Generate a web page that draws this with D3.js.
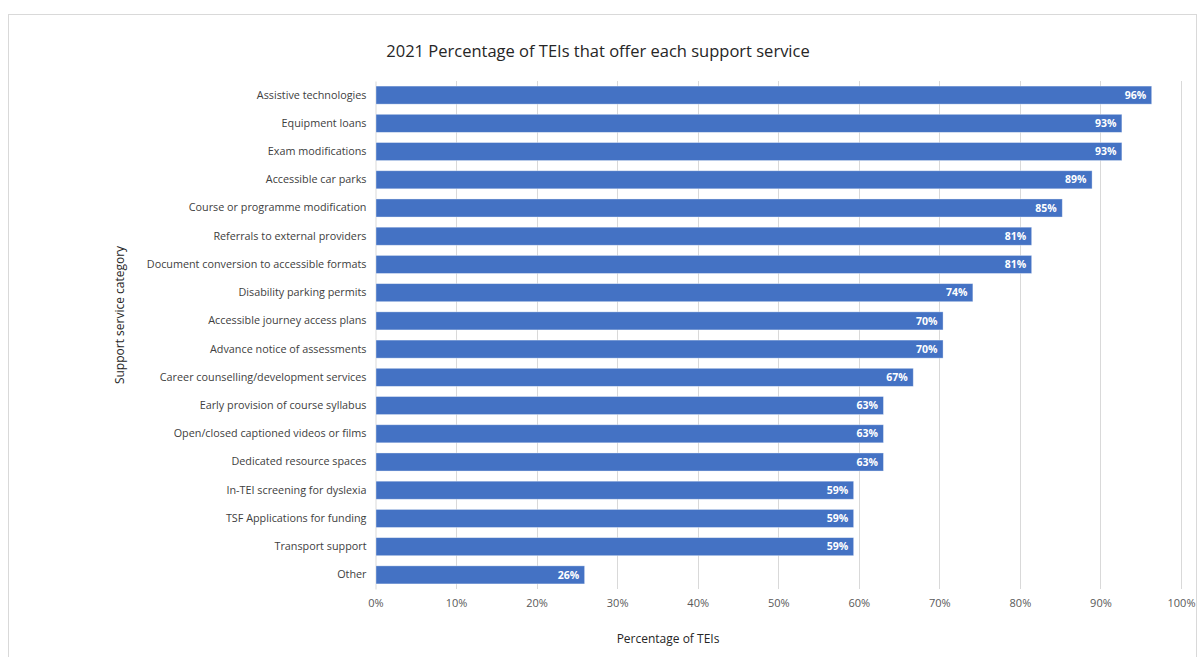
<!DOCTYPE html>
<html>
<head>
<meta charset="utf-8">
<script src="https://cdn.jsdelivr.net/npm/d3@7"></script>
<style>
  body { margin: 0; background: #fff; }
  svg { font-family: "Open Sans", "Noto Sans", sans-serif; }
</style>
</head>
<body>
<div id="chart"></div>
<script>
// Chart data
const categories = [
  "Assistive technologies",
  "Equipment loans",
  "Exam modifications ",
  "Accessible car parks",
  "Course or programme modification",
  "Referrals to external providers",
  "Document conversion to accessible formats",
  "Disability parking permits",
  "Accessible journey access plans",
  "Advance notice of assessments",
  "Career counselling/development services",
  "Early provision of course syllabus",
  "Open/closed captioned videos or films",
  "Dedicated resource spaces",
  "In-TEI screening for dyslexia",
  "TSF Applications for funding",
  "Transport support",
  "Other"
];
const values = [96.3, 92.6, 92.6, 88.9, 85.2, 81.4, 81.4, 74.1, 70.4, 70.4, 66.7, 63.0, 63.0, 63.0, 59.3, 59.3, 59.3, 25.9];
const xTicks = [0, 10, 20, 30, 40, 50, 60, 70, 80, 90, 100];

const width = 1198;
const height = 657;
const margin = { top: 81, right: 17, bottom: 68, left: 375.5 };

const svg = d3.select("#chart")
  .append("svg")
  .attr("width", width)
  .attr("height", height);

// Chart border
svg.append("rect")
  .attr("x", 8.5)
  .attr("y", 14.5)
  .attr("width", 1188)
  .attr("height", 660)
  .attr("fill", "none")
  .attr("stroke", "#d9d9d9");

// Scales
const x = d3.scaleLinear()
  .domain([0, 100])
  .range([margin.left, width - margin.right]);

const y = d3.scaleBand()
  .domain(categories)
  .range([margin.top, height - margin.bottom])
  .paddingInner(0.36)
  .paddingOuter(0.18);

// Vertical gridlines
svg.append("g")
  .selectAll("line")
  .data(xTicks.slice(1))
  .enter()
  .append("line")
  .attr("x1", (d) => Math.round(x(d)) + 0.5)
  .attr("x2", (d) => Math.round(x(d)) + 0.5)
  .attr("y1", margin.top)
  .attr("y2", height - margin.bottom)
  .attr("stroke", "#d9d9d9");

// X axis tick labels
const xAxis = d3.axisBottom(x)
  .tickValues(xTicks)
  .tickFormat((d) => d + "%")
  .tickSize(0)
  .tickPadding(10);

svg.append("g")
  .attr("transform", `translate(0, ${height - margin.bottom})`)
  .call(xAxis)
  .call((g) => g.select(".domain").remove())
  .selectAll("text")
  .attr("fill", "#595959")
  .style("font-size", "11px")
  .style("font-family", "'Open Sans', sans-serif");

// Y axis
const yAxis = d3.axisLeft(y)
  .tickSize(0)
  .tickPadding(9);

svg.append("g")
  .attr("transform", `translate(${margin.left}, 0)`)
  .call(yAxis)
  .call((g) => g.select(".domain").attr("stroke", "#d9d9d9"))
  .selectAll("text")
  .attr("fill", "#404040")
  .style("font-size", "10.8px")
  .style("font-family", "'Open Sans', sans-serif");

// Bars
svg.append("g")
  .selectAll("rect")
  .data(values)
  .enter()
  .append("rect")
  .attr("x", x(0) + 0.5)
  .attr("y", (d, i) => y(categories[i]))
  .attr("width", (d) => x(d) - x(0))
  .attr("height", y.bandwidth())
  .attr("fill", "#4472c4")
  .attr("stroke", "#ffffff")
  .attr("stroke-opacity", 0.45)
  .attr("stroke-width", 0.8);

// Value labels
svg.append("g")
  .selectAll("text")
  .data(values)
  .enter()
  .append("text")
  .attr("x", (d) => x(d) - 5)
  .attr("y", (d, i) => y(categories[i]) + y.bandwidth() / 2)
  .attr("dy", "0.35em")
  .attr("text-anchor", "end")
  .attr("fill", "#ffffff")
  .style("font-size", "10.5px")
  .style("font-weight", "bold")
  .text((d) => Math.round(d) + "%");

// Title
svg.append("text")
  .attr("x", 598)
  .attr("y", 57)
  .attr("text-anchor", "middle")
  .attr("fill", "#262626")
  .style("font-size", "16.5px")
  .text("2021 Percentage of TEIs that offer each support service");

// X axis title
svg.append("text")
  .attr("x", 668)
  .attr("y", 643)
  .attr("text-anchor", "middle")
  .attr("fill", "#262626")
  .style("font-size", "12px")
  .text("Percentage of TEIs");

// Y axis title
svg.append("text")
  .attr("transform", "translate(124, 315) rotate(-90)")
  .attr("text-anchor", "middle")
  .attr("fill", "#262626")
  .style("font-size", "12px")
  .text("Support service category");
</script>
</body>
</html>
